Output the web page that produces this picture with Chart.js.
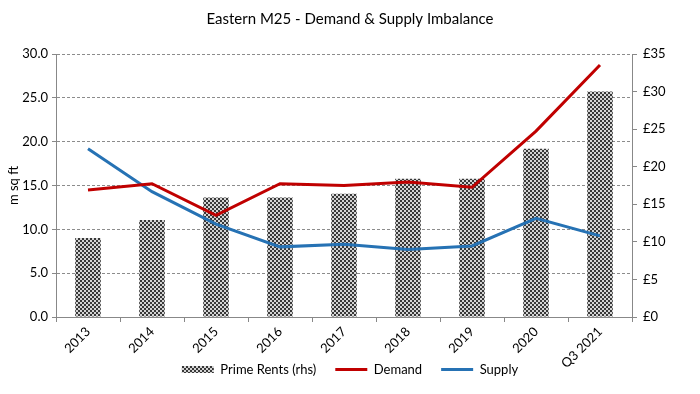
<!DOCTYPE html>
<html>
<head>
<meta charset="utf-8">
<script src="https://cdn.jsdelivr.net/npm/chart.js@4.4.1/dist/chart.umd.min.js"></script>
<style>
  html, body { margin: 0; padding: 0; background: #fff; }
  #wrap { width: 700px; height: 394px; }
</style>
</head>
<body>
<div id="wrap"><canvas id="chart" width="700" height="394"></canvas></div>
<script>
// Chart data
const categories = ['2013', '2014', '2015', '2016', '2017', '2018', '2019', '2020', 'Q3 2021'];
const primeRents = [10.5, 12.9, 15.9, 15.9, 16.4, 18.4, 18.4, 22.4, 30.0];
const demand = [14.5, 15.2, 11.6, 15.2, 15.0, 15.4, 14.8, 21.2, 28.75];
const supply = [19.2, 14.3, 10.6, 8.0, 8.3, 7.7, 8.1, 11.25, 9.25];

const FONT = 'Lato, "Open Sans", sans-serif';

// Checkered fill like the Excel pattern bars
function makePattern() {
    const c = document.createElement('canvas');
    c.width = 4;
    c.height = 4;
    const g = c.getContext('2d');
    g.fillStyle = '#d4d4d4';
    g.fillRect(0, 0, 4, 4);
    g.fillStyle = '#383838';
    g.fillRect(0, 0, 2, 2);
    g.fillRect(2, 2, 2, 2);
    return g.createPattern(c, 'repeat');
}
const pattern = makePattern();

const ctx = document.getElementById('chart').getContext('2d');
new Chart(ctx, {
    type: 'bar',
    data: {
        labels: categories,
        datasets: [
            {
                label: 'Prime Rents (rhs)',
                data: primeRents,
                backgroundColor: pattern,
                borderWidth: 0,
                yAxisID: 'y1',
                barPercentage: 0.8,
                categoryPercentage: 0.5,
                order: 1
            },
            {
                type: 'line',
                label: 'Demand',
                data: demand,
                borderColor: '#c00000',
                backgroundColor: '#c00000',
                borderWidth: 3,
                pointRadius: 0,
                tension: 0,
                yAxisID: 'y',
                order: 0
            },
            {
                type: 'line',
                label: 'Supply',
                data: supply,
                borderColor: '#2672b4',
                backgroundColor: '#2672b4',
                borderWidth: 3,
                pointRadius: 0,
                tension: 0,
                yAxisID: 'y',
                order: 0
            }
        ]
    },
    options: {
        responsive: false,
        animation: false,
        layout: { padding: { left: 0, right: 0, top: 0, bottom: 8 } },
        plugins: {
            title: {
                display: true,
                text: 'Eastern M25 - Demand & Supply Imbalance',
                color: '#000',
                font: { family: FONT, size: 15, weight: 'normal' },
                padding: { top: 10, bottom: 26 }
            },
            legend: {
                position: 'bottom',
                labels: {
                    color: '#000',
                    font: { family: FONT, size: 13 },
                    usePointStyle: true,
                    pointStyleWidth: 32,
                    boxHeight: 7,
                    padding: 19,
                    generateLabels: function (chart) {
                        return chart.data.datasets.map(function (ds, i) {
                            return {
                                text: ds.label,
                                fillStyle: i === 0 ? pattern : ds.borderColor,
                                strokeStyle: i === 0 ? 'rgba(0,0,0,0)' : ds.borderColor,
                                lineWidth: i === 0 ? 0 : 3,
                                pointStyle: i === 0 ? 'rect' : 'line',
                                fontColor: '#000',
                                datasetIndex: i
                            };
                        });
                    }
                }
            },
            tooltip: { enabled: false }
        },
        scales: {
            x: {
                // keep the axis short so the legend sits beside the long "Q3 2021" label,
                // and stop the labels being clipped to that short box
                afterFit: function (scale) {
                    scale.height = 27;
                    scale._computeLabelArea = function () { return undefined; };
                },
                grid: { drawOnChartArea: false, drawTicks: true, tickLength: 5, color: '#888' },
                border: { color: '#888' },
                ticks: {
                    color: '#000',
                    font: { family: FONT, size: 13 },
                    maxRotation: 45,
                    minRotation: 45,
                    padding: 2
                }
            },
            y: {
                position: 'left',
                min: 0,
                max: 30,
                afterFit: function (scale) { scale.width = 56; },
                title: {
                    display: true,
                    text: 'm sq ft',
                    color: '#000',
                    font: { family: FONT, size: 13 },
                    padding: { top: 6, bottom: 0 }
                },
                grid: {
                    color: '#8c8c8c',
                    tickLength: 4,
                    tickColor: '#888'
                },
                border: { color: '#888', dash: [3, 2] },
                ticks: {
                    stepSize: 5,
                    color: '#000',
                    font: { family: FONT, size: 13 },
                    padding: 4,
                    callback: function (v) { return v.toFixed(1); }
                }
            },
            y1: {
                position: 'right',
                min: 0,
                max: 35,
                afterFit: function (scale) { scale.width = 68; },
                grid: { drawOnChartArea: false, tickLength: 5, color: '#888' },
                border: { color: '#888' },
                ticks: {
                    stepSize: 5,
                    color: '#000',
                    font: { family: FONT, size: 13 },
                    padding: 6,
                    callback: function (v) { return '£' + v; }
                }
            }
        }
    }
});
</script>
</body>
</html>
